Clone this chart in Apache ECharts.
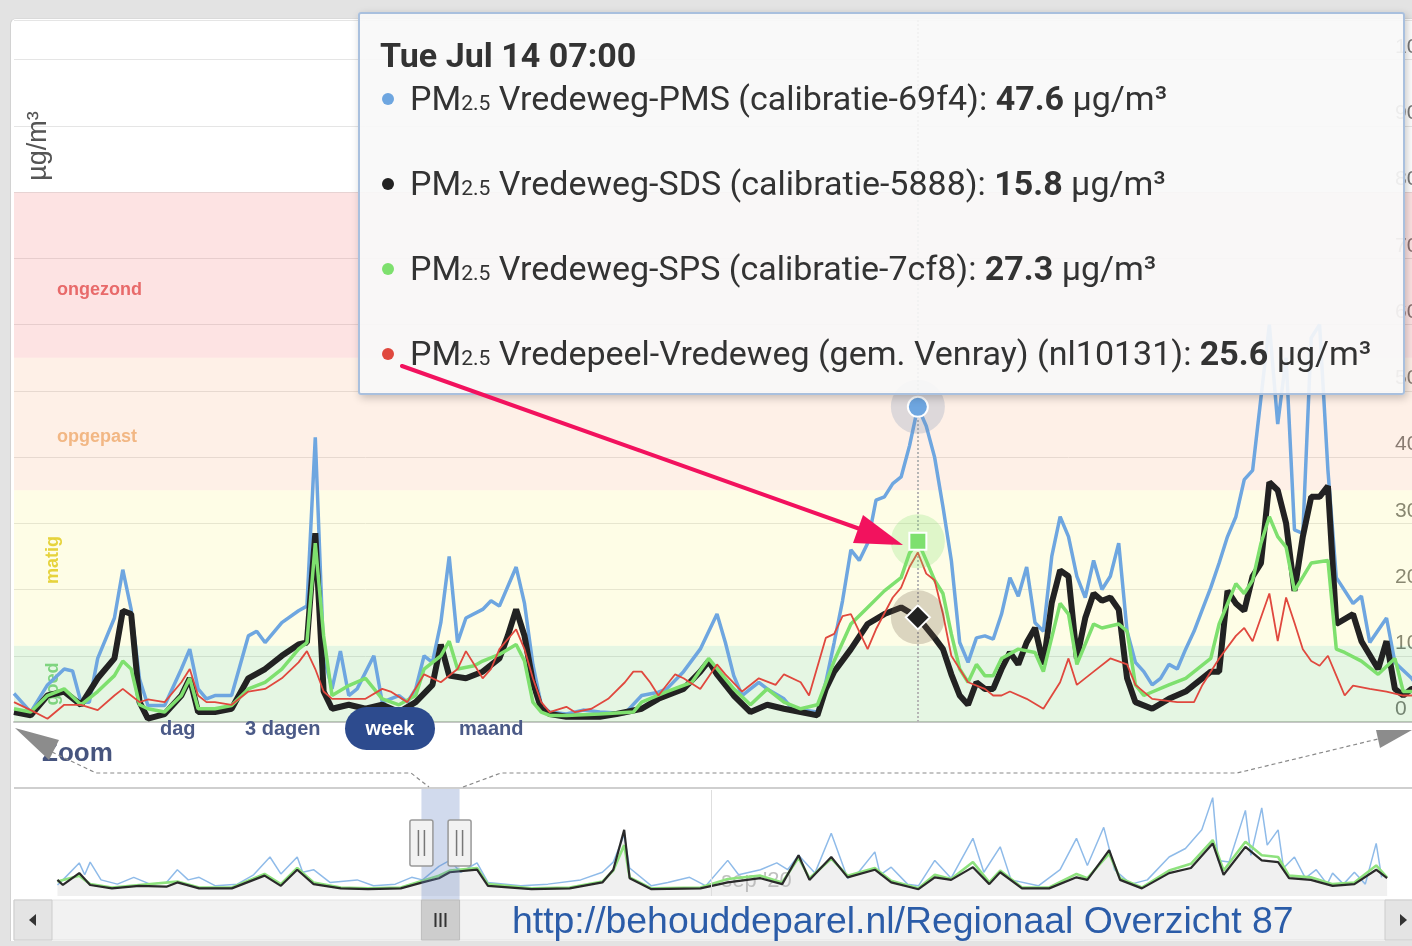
<!DOCTYPE html>
<html>
<head>
<meta charset="utf-8">
<script src="https://cdn.jsdelivr.net/npm/echarts@6/dist/echarts.min.js"></script>
<style>
html, body { margin: 0; padding: 0; width: 1412px; height: 946px; overflow: hidden; background: #e3e3e3; }
#panel { position: absolute; left: 10px; top: 18px; width: 1440px; height: 922px; background: #fff;
  border-radius: 6px 0 0 0; border-left: 1px solid #d2d2d2; border-top: 1px solid #dadada; }
#main { position: absolute; left: 0; top: 0; width: 1440px; height: 946px; }
#arrow { position: absolute; left: 0; top: 0; pointer-events: none; z-index: 99999999; }
</style>
</head>
<body>
<div id="panel"></div>
<div id="main"></div>
<svg id="arrow" width="1412" height="946">
  <line x1="402" y1="366" x2="860" y2="529" stroke="#f2125e" stroke-width="4" stroke-linecap="round"/>
  <polygon points="903,545 853,543 863,515" fill="#f2125e"/>
</svg>
<script>
// begin van het venster (week) en van de navigator
var T0 = Date.UTC(2020, 6, 9, 19);
var NAV0 = Date.UTC(2020, 4, 3);
var HOUR = 3600000, DAY = 86400000;
var tooltipHour = 108;   // Tue Jul 14 07:00

var sensorNames = [
  'Vredeweg-PMS (calibratie-69f4)',
  'Vredeweg-SDS (calibratie-5888)',
  'Vredeweg-SPS (calibratie-7cf8)',
  'Vredepeel-Vredeweg (gem. Venray) (nl10131)'
];
var bandEdges = [0, 11.5, 35, 55, 80];
var bandNames = ['goed', 'matig', 'opgepast', 'ongezond'];
var rangeButtons = ['dag', '3 dagen', 'week', 'maand'];

// [uur sinds T0, µg/m³]
var pmsPoints = [[0,4.3],[2,1.5],[4,5.6],[6,8],[7,7.7],[8,3],[9,3],[10,9.6],[12,15.7],[13,23],[14,17],[15,6.5],[16,2.5],[18,2.5],[20,8],[21,11],[22,5],[23,3.5],[24,4],[26,4],[28,13],[29,13.7],[30,12],[32,15],[34,16.8],[35,17.5],[36,43],[37,10],[38,5],[39,10.7],[40,4],[41,5],[43,10],[44,3],[46,4],[47,3],[48,5],[49,10],[50,9],[51,15],[52,25],[53,12],[54,15.7],[56,17],[57,18.3],[58,17.5],[60,23.4],[61,17.9],[62,8.7],[63,2.6],[64,1.5],[66,1.2],[68,1.8],[70,1.5],[73,1.3],[75,4],[77,4.5],[78,5],[80,7.6],[82,11],[84,16.3],[85,12],[86,7],[87,4],[88,5],[89,6],[90,5],[92,3.5],[93,2],[96,1.5],[97,6],[98,12],[99,18.3],[100,26],[101,24.4],[102,27],[103,33.5],[104,34],[105,36],[106,37],[107,41.7],[108,47.6],[109,44.7],[110,40],[111,32.5],[112,24.4],[113,12],[114,9],[115,12.7],[116,13],[117,12.5],[118,16.3],[119,21.8],[120,19],[121,23.4],[122,15],[123,13.7],[124,25],[125,31],[126,28],[127,22],[128,18.8],[129,24.4],[130,20],[131,22],[132,27],[133,13.7],[134,9],[135,7.6],[136,5.6],[137,6.6],[138,8.7],[139,8],[140,11],[141,13.7],[142,17],[143,20.3],[144,24],[145,28],[146,31],[147,36.6],[148,38],[149,49],[150,60],[151,45],[152,55],[153,29],[154,28.5],[155,58],[156,60],[157,38],[158,21.8],[160,17.9],[161,19],[162,12],[164,15.7],[165,9],[167,6.6],[168,5]];
var sdsPoints = [[0,1.5],[2,1],[4,4],[6,4.6],[8,2.6],[10,6.6],[12,9.6],[13,16.8],[14,16.3],[15,3],[16,0.5],[18,1.2],[20,4],[21,6.6],[22,1.5],[24,1.5],[26,2],[28,6.6],[30,8],[32,10],[34,11.7],[35,12],[36,28.5],[37,4.6],[38,2],[40,2.6],[42,2],[44,2.6],[46,1.5],[48,3],[50,5.6],[51,11.7],[52,7],[54,6.6],[56,7.6],[58,9.6],[59,13],[60,17],[61,13],[62,6],[63,2],[64,1.2],[66,0.8],[70,0.8],[72,1.2],[75,2],[77,3.5],[80,5],[82,7.6],[83,9.2],[84,7.2],[86,4],[88,1.5],[90,2.6],[92,2],[94,1.5],[96,1],[97,5],[98,7.6],[100,11],[102,14.8],[104,16.3],[106,17.3],[108,15.8],[110,12.7],[111,11],[112,7.2],[113,4],[114,2.6],[115,6],[116,5],[117,5],[118,8],[119,10.5],[120,8.7],[121,12],[122,14.2],[123,8.7],[124,18],[125,22.9],[126,22],[127,9.6],[128,15.7],[129,19.4],[130,18.3],[131,18.8],[132,17],[133,6.6],[134,3],[136,2],[138,3.5],[140,4.6],[141,5.6],[143,7.6],[144,7.6],[145,19.8],[146,17.9],[147,16.8],[148,22],[149,24],[150,36.2],[151,35],[152,30],[153,19.8],[154,28],[155,34],[156,34],[157,35.6],[158,14.8],[160,16.3],[161,12.2],[163,8],[164,12.2],[165,5],[166,4],[167,5],[168,5]];
var spsPoints = [[0,2],[2,1.5],[4,4],[6,5],[8,2.6],[10,4.6],[12,7],[13,9.2],[14,8],[15,2.6],[16,2],[18,1.5],[20,4],[21,6.6],[22,2],[24,2],[26,2.5],[28,5],[30,6],[32,8],[34,11],[35,12],[36,27],[37,13],[38,4],[40,5.5],[42,6.6],[44,3.5],[46,2.6],[48,4],[49,8],[51,10],[52,12.2],[53,8],[55,8.5],[56,9.2],[58,10.2],[60,11.7],[61,9.2],[62,3],[63,1.5],[64,1],[66,1],[70,1.2],[74,1.5],[75,3],[78,4.6],[81,6],[83,9.6],[86,5],[88,2.6],[90,5],[92,3],[94,2],[96,2.6],[98,9.2],[100,14.8],[102,17.3],[104,19.8],[106,21.8],[107,25.5],[108,27.3],[109,24.4],[110,21.4],[111,19.4],[112,13.3],[113,8],[114,6],[115,8.7],[116,7],[117,7],[118,9.6],[120,11],[122,10.5],[123,7.6],[125,17.9],[126,16.3],[127,8.7],[129,14.8],[130,14.2],[132,14.8],[133,13.7],[134,5.6],[135,4],[138,5.6],[140,6.6],[143,9.6],[144,14.8],[146,20.9],[147,19.4],[148,21.4],[149,27],[150,31],[151,28],[152,26.4],[153,19.8],[155,24],[157,24.4],[158,11],[159,10.5],[161,9.2],[163,7.2],[165,9.6],[166,4.6],[167,4.6],[168,4]];
var rivmPoints = [[0,3],[2,1.8],[4,0.5],[6,2.6],[8,2.6],[10,1.8],[12,4],[13,5],[14,4],[15,3],[16,3.4],[18,3],[20,6],[21,8],[22,4],[23,3],[24,3],[26,2.6],[28,4.6],[30,5],[32,6.6],[34,9],[35,10.7],[36,8],[37,4.6],[38,3.5],[40,3.5],[42,3.5],[44,5],[45,4.6],[47,3],[49,7.2],[51,6],[53,8],[54,10.7],[56,6.6],[57,8],[58,11],[60,14],[61,11],[62,6.6],[63,3],[64,1.5],[66,2.3],[67,1.5],[69,2],[71,3.5],[73,6],[74,7.6],[75,7.6],[76,6],[77,4],[79,7.2],[80,6.6],[82,5],[84,8.7],[85,7.2],[87,4.6],[89,6.6],[91,5.6],[92,7.2],[94,6],[95,4],[97,12.7],[98,13.3],[99,16],[100,16.3],[102,11],[103,14],[105,18.8],[106,20.3],[107,23.4],[108,25.6],[109,22.4],[110,21.4],[111,16.3],[112,10],[113,8],[114,6],[116,5],[117,4],[118,4],[119,4.6],[121,3.5],[123,2],[124,4],[125,6],[126,9.6],[127,5.6],[129,7.6],[131,9.6],[133,8.7],[134,5.6],[136,3.5],[139,3],[141,3],[142,5.6],[144,9.6],[146,13],[147,14.2],[148,12.2],[150,19.4],[151,12.2],[152,18.8],[153,15],[154,11],[155,9.2],[156,8.5],[157,10],[158,7],[159,4],[160,5.5],[162,5],[164,4.6],[166,4],[168,4]];

// navigator: [dag sinds NAV0, waarde]
var navPms = [[1,13],[2,19],[5,39],[6,25],[7,40],[9,19],[12,14],[15,22],[18,14],[21,16],[23,31],[25,19],[27,22],[30,12],[34,14],[37,25],[40,46],[42,26],[45,46],[46,28],[48,31],[51,16],[56,19],[59,12],[63,14],[66,22],[68,19],[71,35],[73,42],[75,28],[78,39],[80,16],[86,12],[91,14],[97,19],[101,28],[103,40],[105,72],[106,33],[110,12],[113,16],[117,22],[120,12],[124,42],[126,25],[130,31],[133,39],[135,31],[137,48],[140,27],[143,74],[146,21],[148,28],[151,52],[152,25],[154,34],[157,14],[159,12],[162,42],[165,21],[169,68],[171,28],[174,58],[176,19],[181,12],[185,31],[188,68],[190,36],[193,81],[195,31],[198,14],[201,19],[205,46],[208,56],[211,78],[213,116],[214,42],[216,40],[219,101],[220,48],[222,104],[223,60],[225,78],[226,33],[228,46],[230,21],[232,31],[234,14],[235,27],[237,14],[239,28],[241,14],[243,62],[244,22]];
var navSds = [[1,19],[2,13],[5,27],[7,13],[11,9],[16,12],[21,11],[23,16],[27,9],[33,9],[39,24],[42,12],[45,31],[48,14],[53,9],[58,8],[64,9],[68,16],[71,21],[73,28],[78,31],[80,12],[88,8],[95,9],[101,16],[103,31],[105,78],[106,21],[110,8],[119,9],[124,16],[130,21],[134,14],[137,48],[139,19],[143,46],[146,22],[151,31],[154,16],[159,8],[162,22],[165,19],[169,34],[172,14],[174,28],[178,9],[183,9],[188,22],[190,19],[194,54],[196,19],[200,9],[205,27],[209,33],[213,62],[215,25],[219,58],[222,42],[225,40],[227,21],[231,19],[235,12],[239,14],[243,31],[245,21]];
var navSps = [[1,17],[5,24],[7,14],[11,10],[16,13],[23,17],[27,10],[33,10],[39,26],[42,14],[45,33],[48,16],[53,10],[58,9],[64,10],[68,18],[71,24],[73,30],[78,33],[80,14],[88,9],[95,10],[101,17],[103,30],[105,60],[106,22],[110,9],[119,10],[124,20],[130,24],[134,16],[137,45],[139,21],[143,44],[146,24],[151,33],[154,18],[159,9],[162,25],[165,20],[169,40],[172,16],[174,30],[178,10],[183,10],[188,26],[190,21],[194,50],[196,21],[200,10],[205,30],[209,38],[213,66],[215,30],[219,64],[222,48],[225,46],[227,24],[231,22],[235,14],[239,16],[243,36],[245,22]];

var lineColors = ['#6ea6e0', '#222222', '#7ee06e', '#e0483e'];
var FONT = '"Liberation Sans", Arial, sans-serif';

function hoursToTime(points) {
  return points.map(function (p) { return [T0 + p[0] * HOUR, p[1]]; });
}
function daysToTime(points) {
  return points.map(function (p) { return [NAV0 + p[0] * DAY, p[1]]; });
}
function valueAt(points, h) {
  for (var i = 0; i < points.length; i++) if (points[i][0] === h) return points[i][1];
}
function pad(n) { return (n < 10 ? '0' : '') + n; }

var dayNames = ['Sun', 'Mon', 'Tue', 'Wed', 'Thu', 'Fri', 'Sat'];
var monthNames = ['Jan', 'Feb', 'Mar', 'Apr', 'May', 'Jun', 'Jul', 'Aug', 'Sep', 'Oct', 'Nov', 'Dec'];

var mainPoints = [pmsPoints, sdsPoints, spsPoints, rivmPoints];
var markers = [
  { symbol: 'circle', size: 20, halo: 'rgba(120,145,180,0.25)' },
  { symbol: 'diamond', size: 24, halo: 'rgba(110,90,70,0.25)' },
  { symbol: 'rect', size: 17, halo: 'rgba(126,224,110,0.25)' },
  null
];

var chart = echarts.init(document.getElementById('main'));

var series = mainPoints.map(function (pts, i) {
  var s = {
    name: 'PM2.5 ' + sensorNames[i],
    type: 'line',
    xAxisIndex: 0, yAxisIndex: 0,
    data: hoursToTime(pts),
    color: lineColors[i],
    symbol: 'none',
    showSymbol: false,
    lineStyle: { color: lineColors[i], width: [3.5, 6, 3.5, 1.8][i] },
    emphasis: { disabled: true },
    z: 3
  };
  if (markers[i]) {
    var c = [T0 + tooltipHour * HOUR, valueAt(pts, tooltipHour)];
    s.markPoint = {
      silent: true,
      label: { show: false },
      data: [
        { coord: c, symbol: 'circle', symbolSize: 54, itemStyle: { color: markers[i].halo } },
        { coord: c, symbol: markers[i].symbol, symbolSize: markers[i].size,
          itemStyle: { color: lineColors[i], borderColor: '#fff', borderWidth: 2 } }
      ]
    };
  }
  return s;
});

var navData = [navPms, navSps, navSds];
var navColors = ['#8fbbe9', '#8ee27e', '#2a2a2a'];
navData.forEach(function (pts, i) {
  var s = {
    type: 'line', xAxisIndex: 1, yAxisIndex: 1,
    data: daysToTime(pts),
    symbol: 'none', silent: true,
    tooltip: { show: false },
    lineStyle: { color: navColors[i], width: [1.5, 2.6, 2.2][i] },
    emphasis: { disabled: true },
    z: 3
  };
  if (i === 2) {
    s.areaStyle = { color: 'rgba(185,185,185,0.3)' };
    s.markLine = {
      silent: true, symbol: ['none', 'none'], label: { show: false },
      lineStyle: { color: '#dedede', width: 1, type: 'solid' },
      data: [{ xAxis: Date.UTC(2020, 8, 1) }]
    };
  }
  series.push(s);
});

var bandFills = ['rgba(100,200,90,0.17)', 'rgba(250,240,80,0.145)', 'rgba(245,150,90,0.145)', 'rgba(240,80,80,0.16)'];
series.push({
  type: 'line', xAxisIndex: 0, yAxisIndex: 0, data: [], z: 1, silent: true,
  tooltip: { show: false },
  markArea: {
    silent: true,
    label: { show: false },
    data: bandNames.map(function (n, i) {
      return [{ yAxis: bandEdges[i], itemStyle: { color: bandFills[i] } }, { yAxis: bandEdges[i + 1] }];
    })
  }
});

function dot(color) {
  return '<span style="display:inline-block;width:12px;height:12px;border-radius:6px;background:' + color +
    ';margin-right:16px;vertical-align:middle;position:relative;top:-2px"></span>';
}

var option = {
  animation: false,
  backgroundColor: 'transparent',
  grid: [
    { left: 14, top: 20, right: 20, bottom: 224 },
    { left: 52, top: 790, right: 54, bottom: 50 }
  ],
  xAxis: [
    { type: 'time', gridIndex: 0, min: T0, max: T0 + 7 * DAY,
      axisLine: { lineStyle: { color: '#c6c6c6', width: 2 } },
      axisTick: { show: false }, axisLabel: { show: false }, splitLine: { show: false } },
    { type: 'time', gridIndex: 1, min: NAV0, max: NAV0 + 244.8 * DAY, show: false }
  ],
  yAxis: [
    { type: 'value', gridIndex: 0, position: 'right', min: 0, max: 106, interval: 10,
      axisLine: { show: false }, axisTick: { show: false },
      splitLine: { lineStyle: { color: '#e5e5e5', width: 1 } },
      axisLabel: { inside: true, align: 'left', margin: 25, verticalAlign: 'bottom',
        padding: [0, 0, 2, 0], color: '#777', fontSize: 21, fontFamily: FONT, showMaxLabel: false } },
    { type: 'value', gridIndex: 1, min: 0, max: 125, show: false }
  ],
  tooltip: {
    trigger: 'axis',
    triggerOn: 'none',
    alwaysShowContent: true,
    transitionDuration: 0,
    position: [358, 12],
    backgroundColor: 'rgba(248,248,248,0.91)',
    borderColor: '#a9c0de',
    borderWidth: 2,
    padding: [21, 20, 19, 22],
    textStyle: { fontFamily: 'Roboto, sans-serif', fontSize: 34, color: '#333' },
    extraCssText: 'width:1047px;height:383px;box-sizing:border-box;border-radius:3px;box-shadow:2px 3px 8px rgba(0,0,0,0.22);',
    axisPointer: { type: 'line', z: 1, label: { show: false },
      lineStyle: { color: '#b5b5b5', width: 2, type: 'dotted' } },
    formatter: function (params) {
      var rows = params.filter(function (p) { return p.seriesIndex < 4; });
      var d = new Date(rows[0].value[0]);
      var head = dayNames[d.getUTCDay()] + ' ' + monthNames[d.getUTCMonth()] + ' ' + d.getUTCDate() + ' ' +
        pad(d.getUTCHours()) + ':' + pad(d.getUTCMinutes());
      var html = '<div style="font-weight:bold;height:40px;line-height:40px;margin-left:-2px">' + head + '</div>';
      rows.forEach(function (p, i) {
        html += '<div style="height:46px;line-height:46px;overflow:visible;margin-top:' + (i ? 39 : 0) + 'px">' +
          dot(lineColors[p.seriesIndex]) +
          'PM<span style="font-size:62%;line-height:0">2.5</span> ' + sensorNames[p.seriesIndex] + ': <b>' +
          p.value[1].toFixed(1) + '</b> µg/m³</div>';
      });
      return html;
    }
  },
  series: series
};

chart.setOption(option);

// decoratie: bandlabels, zoomknoppen, navigator en scrollbar
var yPx = function (v) { return chart.convertToPixel({ yAxisIndex: 0 }, v); };
var navX = function (t) { return chart.convertToPixel({ xAxisIndex: 1 }, t); };
var bandTextColors = ['#7fd47f', '#e6d33c', '#f2b784', '#e86a6a'];
var labelDy = [0, -8, 13, 15];
var g = [];

bandNames.forEach(function (name, i) {
  var mid = (bandEdges[i] + bandEdges[i + 1]) / 2;
  var vertical = i < 2;
  g.push({ type: 'text', z: 2, x: vertical ? 53 : 57, y: yPx(mid) + labelDy[i], rotation: vertical ? Math.PI / 2 : 0,
    style: { text: name, x: 0, y: 0, align: vertical ? 'center' : 'left', verticalAlign: 'middle',
      fill: bandTextColors[i], font: 'bold 18px ' + FONT } });
});

g.push({ type: 'text', z: 2, x: 39, y: 146, rotation: Math.PI / 2,
  style: { text: 'µg/m³', x: 0, y: 0, align: 'center', verticalAlign: 'middle', fill: '#555', font: '27px ' + FONT } });

// range selector
var btnX = [160, 245, 390, 459];
rangeButtons.forEach(function (b, i) {
  if (i === 2) {
    g.push({ type: 'rect', z: 10, shape: { x: 345, y: 707, width: 90, height: 43, r: 21.5 }, style: { fill: '#2d4b8e' } });
  }
  g.push({ type: 'text', z: 11, x: btnX[i], y: 729,
    style: { text: b, x: 0, y: 0, align: i === 2 ? 'center' : 'left', verticalAlign: 'middle',
      fill: i === 2 ? '#fff' : '#4b5a87', font: 'bold 20px ' + FONT } });
});
g.push({ type: 'text', z: 11, x: 42, y: 754,
  style: { text: 'Zoom', x: 0, y: 0, align: 'left', verticalAlign: 'middle', fill: '#46547e', font: 'bold 26px ' + FONT } });

// navigator
var wl = navX(T0), wr = navX(T0 + 7 * DAY);
g.push({ type: 'line', z: 6, shape: { x1: 14, y1: 788, x2: 1440, y2: 788 }, style: { stroke: '#cfcfcf', lineWidth: 2 } });
g.push({ type: 'rect', z: 4, shape: { x: wl, y: 789, width: wr - wl, height: 111 }, style: { fill: 'rgba(102,133,194,0.3)' } });
[wl, wr].forEach(function (cx) {
  g.push({ type: 'rect', z: 6, shape: { x: cx - 11.5, y: 820, width: 23, height: 46, r: 2 },
    style: { fill: '#f2f2f2', stroke: '#999', lineWidth: 1.5 } });
  g.push({ type: 'line', z: 7, shape: { x1: cx - 3, y1: 830, x2: cx - 3, y2: 856 }, style: { stroke: '#777', lineWidth: 1.5 } });
  g.push({ type: 'line', z: 7, shape: { x1: cx + 3, y1: 830, x2: cx + 3, y2: 856 }, style: { stroke: '#777', lineWidth: 1.5 } });
});
g.push({ type: 'text', z: 1, x: navX(Date.UTC(2020, 8, 1)) + 10, y: 881,
  style: { text: "sep '20", x: 0, y: 0, align: 'left', verticalAlign: 'middle', fill: 'rgba(140,140,140,0.55)', font: '22px ' + FONT } });

// scrollbar
g.push({ type: 'rect', z: 5, shape: { x: 14, y: 900, width: 1426, height: 40 }, style: { fill: '#f2f2f2', stroke: '#e2e2e2' } });
g.push({ type: 'rect', z: 6, shape: { x: 14, y: 900, width: 38, height: 40 }, style: { fill: '#e4e4e4', stroke: '#cccccc' } });
g.push({ type: 'polygon', z: 7, shape: { points: [[29, 920], [36, 914], [36, 926]] }, style: { fill: '#333' } });
g.push({ type: 'rect', z: 6, shape: { x: 1385, y: 900, width: 40, height: 40 }, style: { fill: '#e4e4e4', stroke: '#cccccc' } });
g.push({ type: 'polygon', z: 7, shape: { points: [[1407, 920], [1400, 914], [1400, 926]] }, style: { fill: '#333' } });
g.push({ type: 'rect', z: 6, shape: { x: wl, y: 900, width: wr - wl, height: 40 }, style: { fill: '#cdcdcd', stroke: '#bdbdbd' } });
[-5, 0, 5].forEach(function (dx) {
  var cx = (wl + wr) / 2 + dx;
  g.push({ type: 'line', z: 7, shape: { x1: cx, y1: 913, x2: cx, y2: 927 }, style: { stroke: '#333', lineWidth: 2 } });
});

// zoom-annotatie: grijze pijlen en stippellijnen
var dash = { stroke: '#8a8a8a', lineWidth: 1.2, lineDash: [4, 3], fill: null };
g.push({ type: 'polyline', z: 12, shape: { points: [[52, 752], [96, 773], [411, 773], [429, 787]] }, style: dash });
g.push({ type: 'polyline', z: 12, shape: { points: [[463, 787], [501, 773], [1237, 773], [1378, 739]] }, style: dash });
g.push({ type: 'polygon', z: 12, shape: { points: [[15, 728], [59, 740], [49, 760]] }, style: { fill: '#8c8c8c' } });
g.push({ type: 'polygon', z: 12, shape: { points: [[1412, 730], [1376, 730], [1380, 748]] }, style: { fill: '#8c8c8c' } });

// url
g.push({ type: 'text', z: 12, x: 512, y: 923,
  style: { text: 'http://behouddeparel.nl/Regionaal Overzicht 87', x: 0, y: 0, align: 'left', verticalAlign: 'middle',
    fill: '#2b5ca8', font: '37.4px ' + FONT } });

chart.setOption({ graphic: g });

var tipIndex = pmsPoints.findIndex(function (p) { return p[0] === tooltipHour; });
chart.dispatchAction({ type: 'showTip', seriesIndex: 0, dataIndex: tipIndex });
</script>
</body>
</html>
